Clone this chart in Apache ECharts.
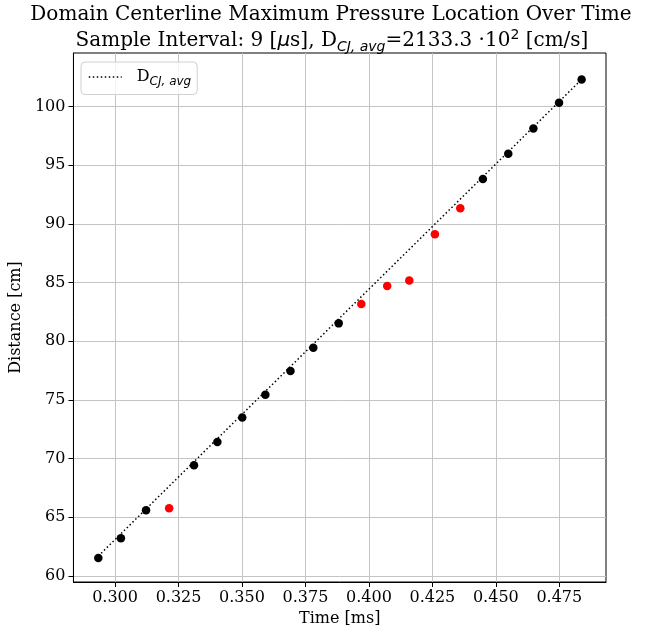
<!DOCTYPE html>
<html>
<head>
<meta charset="utf-8">
<script src="https://cdn.jsdelivr.net/npm/echarts@6/dist/echarts.min.js"></script>
<style>
html,body{margin:0;padding:0;background:#fff;}
#chart{width:646px;height:632px;}
</style>
</head>
<body>
<div id="chart"></div>
<script>
// ---- data ----
const blackT = [0.2934, 0.3023, 0.3122, 0.3311, 0.3403, 0.3501, 0.3592, 0.3691, 0.3781, 0.3881, 0.4449, 0.4549, 0.4648, 0.4749, 0.4838];
const blackD = [61.53, 63.22, 65.60, 69.44, 71.42, 73.51, 75.44, 77.47, 79.45, 81.52, 93.82, 95.96, 98.11, 100.31, 102.30];
const redT = [0.3213, 0.3970, 0.4072, 0.4159, 0.4260, 0.4360];
const redD = [65.77, 83.18, 84.71, 85.17, 89.12, 91.32];
const fitT = [0.2934, 0.4838];
const fitD = [61.7, 102.3];
const xTicks = [0.300, 0.325, 0.350, 0.375, 0.400, 0.425, 0.450, 0.475];
const yTicks = [60, 65, 70, 75, 80, 85, 90, 95, 100];
const xLabel = 'Time [ms]';
const yLabel = 'Distance [cm]';
const title1 = 'Domain Centerline Maximum Pressure Location Over Time';

const serif = 'DejaVu Serif';
const chart = echarts.init(document.getElementById('chart'));
const zip = (a, b) => a.map((v, i) => [v, b[i]]);

chart.setOption({
  animation: false,
  backgroundColor: '#fff',
  grid: { left: 73, right: 40, top: 53, bottom: 50, show: true, borderColor: '#000', borderWidth: 1, backgroundColor: 'transparent' },
  graphic: [
    { type: 'text', x: 331, y: 15, style: { text: title1, font: '20px "DejaVu Serif"', fill: '#000', textAlign: 'center', textVerticalAlign: 'middle' } },
    { type: 'text', x: 332, y: 41, style: {
      text: 'Sample Interval: 9 [{mu|μ}s], D{sub|CJ, avg}=2133.3 ·10{sup|2} [cm/s]',
      fontFamily: serif, fontSize: 20, fill: '#000', textAlign: 'center', textVerticalAlign: 'middle',
      rich: {
        mu: { fontFamily: 'DejaVu Sans', fontStyle: 'italic', fontSize: 20, fill: '#000' },
        sub: { fontFamily: 'DejaVu Sans', fontStyle: 'italic', fontSize: 14, padding: [12, 0, 0, 0], fill: '#000' },
        sup: { fontFamily: 'DejaVu Sans', fontSize: 14, padding: [0, 0, 12, 0], fill: '#000' }
      }
    } }
  ],
  legend: {
    left: 81, top: 62,
    orient: 'vertical',
    padding: [7, 6, 7, 7],
    itemWidth: 33, itemHeight: 14, itemGap: 10,
    borderColor: '#d0d0d0', borderWidth: 1, borderRadius: 4,
    backgroundColor: 'rgba(255,255,255,0.8)',
    data: ['fit'],
    itemStyle: { color: 'rgba(0,0,0,0)', borderColor: 'rgba(0,0,0,0)', borderWidth: 0 },
    lineStyle: { color: '#000', width: 1.5, type: [1.5, 2.5] },
    formatter: () => '{d|D}{s|CJ, avg}',
    textStyle: {
      color: '#000', fontFamily: serif, fontSize: 16,
      rich: {
        d: { fontFamily: serif, fontSize: 16, color: '#000', padding: [0, 0, 0, 10] },
        s: { fontFamily: 'DejaVu Sans', fontStyle: 'italic', fontSize: 12, padding: [9, 0, 0, 0], color: '#000' }
      }
    }
  },
  xAxis: {
    type: 'value', min: 0.2836, max: 0.4934,
    name: xLabel, nameLocation: 'middle', nameGap: 28,
    nameTextStyle: { fontFamily: serif, fontSize: 16, color: '#000' },
    axisLine: { show: true, onZero: false, lineStyle: { color: '#000', width: 1 } },
    axisTick: { show: true, length: 5, customValues: xTicks, lineStyle: { color: '#000' } },
    axisLabel: { customValues: xTicks, margin: 8, fontFamily: serif, fontSize: 16, color: '#000', formatter: v => v.toFixed(3) },
    splitLine: { show: true, customValues: xTicks, lineStyle: { color: '#c4c4c4', width: 1 } }
  },
  yAxis: {
    type: 'value', min: 59.49, max: 104.55,
    name: yLabel, nameLocation: 'middle', nameGap: 38, nameRotate: 90,
    nameTextStyle: { fontFamily: serif, fontSize: 16, color: '#000' },
    axisLine: { show: true, onZero: false, lineStyle: { color: '#000', width: 1 } },
    axisTick: { show: true, length: 5, customValues: yTicks, lineStyle: { color: '#000' } },
    axisLabel: { customValues: yTicks, margin: 8, fontFamily: serif, fontSize: 16, color: '#000', formatter: v => String(v) },
    splitLine: { show: true, customValues: yTicks, lineStyle: { color: '#c4c4c4', width: 1 } }
  },
  series: [
    { name: 'black', type: 'scatter', data: zip(blackT, blackD), symbolSize: 8.5, itemStyle: { color: '#000', opacity: 1 }, z: 2 },
    { name: 'red', type: 'scatter', data: zip(redT, redD), symbolSize: 8.5, itemStyle: { color: '#ff0000', opacity: 1 }, z: 2 },
    { name: 'fit', type: 'line', data: zip(fitT, fitD), symbol: 'none', z: 3,
      lineStyle: { color: '#000', width: 1.5, type: [1.5, 2.5] }, itemStyle: { color: '#000' } }
  ]
});
</script>
</body>
</html>
